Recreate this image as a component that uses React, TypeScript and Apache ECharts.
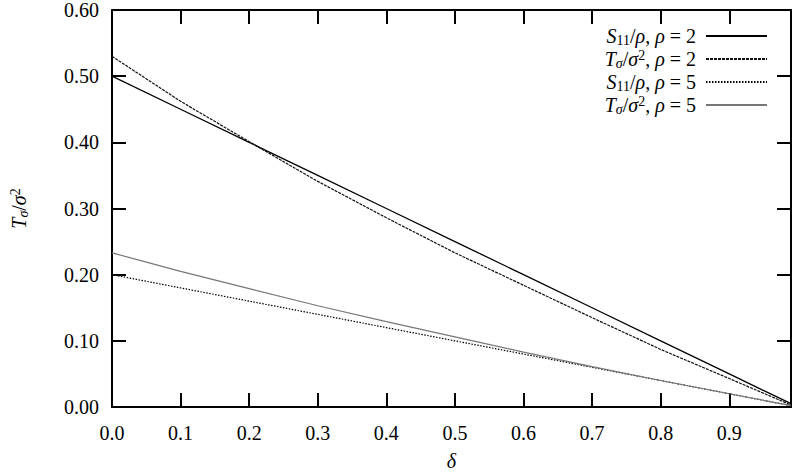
import React, { useEffect, useRef } from "react";
import * as echarts from "echarts";

const deltas = [0, 0.1, 0.2, 0.3, 0.4, 0.5, 0.6, 0.7, 0.8, 0.9, 0.99];
const s11Rho2 = [0.5, 0.45, 0.4, 0.35, 0.3, 0.25, 0.2, 0.15, 0.1, 0.05, 0.005];
const tSigmaRho2 = [0.53, 0.462, 0.401, 0.341, 0.286, 0.233, 0.184, 0.135, 0.087, 0.043, 0.003];
const s11Rho5 = [0.2, 0.18, 0.16, 0.14, 0.12, 0.1, 0.08, 0.06, 0.04, 0.02, 0.002];
const tSigmaRho5 = [0.233, 0.205, 0.179, 0.153, 0.129, 0.106, 0.083, 0.061, 0.04, 0.02, 0.002];
const seriesNames = ["S11/ρ, ρ = 2", "Tσ/σ2, ρ = 2", "S11/ρ, ρ = 5", "Tσ/σ2, ρ = 5"];
const legendRich = [
  "{i|S}{sub|11}{n|/}{i|ρ}{n|, }{i|ρ}{n| = 2}{g|}",
  "{i|T}{subi|σ}{n|/}{i|σ}{sup|2}{n|, }{i|ρ}{n| = 2}{g|}",
  "{i|S}{sub|11}{n|/}{i|ρ}{n|, }{i|ρ}{n| = 5}{g|}",
  "{i|T}{subi|σ}{n|/}{i|σ}{sup|2}{n|, }{i|ρ}{n| = 5}{g|}",
];

const FONT = "'Liberation Serif', 'DejaVu Serif', serif";

const rich = {
  i: { fontFamily: FONT, fontStyle: "italic", fontSize: 20, color: "#000" },
  n: { fontFamily: FONT, fontSize: 20, color: "#000" },
  g: { width: 5 },
  sub: { fontFamily: FONT, fontSize: 14, color: "#000", verticalAlign: "bottom", padding: [6, 0, 0, 0] },
  subi: { fontFamily: FONT, fontStyle: "italic", fontSize: 14, color: "#000", verticalAlign: "bottom", padding: [6, 0, 0, 0] },
  sup: { fontFamily: FONT, fontSize: 14, color: "#000", verticalAlign: "top", padding: [0, 0, 8, 0] },
};

export default function App() {
  const ref = useRef<HTMLDivElement>(null);
  useEffect(() => {
    if (!ref.current) return;
    const chart = echarts.init(ref.current, null, { renderer: "svg" });
    const pts = (ys: number[]) => deltas.map((d, i) => [d, ys[i]]);
    const axisCommon = {
      axisLine: { show: true, onZero: false, lineStyle: { color: "#000", width: 2 } },
      axisTick: { show: true, inside: true, length: 14, lineStyle: { color: "#000", width: 2 } },
      splitLine: { show: false },
    };
    chart.setOption({
      animation: false,
      backgroundColor: "#fff",
      grid: { left: 103, right: 2, top: 7, bottom: 65, containLabel: false },
      legend: {
        orient: "vertical",
        align: "right",
        right: 20,
        top: 20,
        itemWidth: 61,
        itemHeight: 12,
        itemGap: 1,
        itemStyle: { opacity: 0 },
        data: seriesNames,
        formatter: (name: string) => legendRich[seriesNames.indexOf(name)],
        textStyle: { fontFamily: FONT, fontSize: 20, lineHeight: 22, rich },
      },
      xAxis: [
        {
          type: "value", min: 0, max: 0.99, interval: 0.1, position: "bottom",
          ...axisCommon,
          axisLabel: {
            fontFamily: FONT, fontSize: 20, color: "#000", margin: 16,
            showMaxLabel: false,
            formatter: (v: number) => v.toFixed(1),
          },
          name: "δ", nameLocation: "middle", nameGap: 44,
          nameTextStyle: { fontFamily: FONT, fontStyle: "italic", fontSize: 20, color: "#000" },
        },
        {
          type: "value", min: 0, max: 0.99, interval: 0.1, position: "top",
          ...axisCommon, axisLabel: { show: false },
        },
      ],
      yAxis: [
        {
          type: "value", min: 0, max: 0.6, interval: 0.1, position: "left",
          ...axisCommon,
          axisLabel: {
            fontFamily: FONT, fontSize: 20, color: "#000", margin: 13,
            formatter: (v: number) => v.toFixed(2),
          },
          name: "{i|T}{subi|σ}{n|/}{i|σ}{sup|2}",
          nameLocation: "middle", nameGap: 82, nameRotate: 90,
          nameTextStyle: { fontFamily: FONT, fontSize: 20, color: "#000", rich },
        },
        {
          type: "value", min: 0, max: 0.6, interval: 0.1, position: "right",
          ...axisCommon, axisLabel: { show: false },
        },
      ],
      series: [
        {
          name: seriesNames[0], type: "line", data: pts(s11Rho2), showSymbol: false, symbol: "none",
          lineStyle: { color: "#000", width: 1.3, type: "solid" }, itemStyle: { color: "#000" },
        },
        {
          name: seriesNames[1], type: "line", data: pts(tSigmaRho2), showSymbol: false, symbol: "none",
          lineStyle: { color: "#111", width: 1.2, type: [3, 1] }, itemStyle: { color: "#111" },
        },
        {
          name: seriesNames[2], type: "line", data: pts(s11Rho5), showSymbol: false, symbol: "none",
          lineStyle: { color: "#000", width: 1.2, type: [1.5, 1.5] }, itemStyle: { color: "#000" },
        },
        {
          name: seriesNames[3], type: "line", data: pts(tSigmaRho5), showSymbol: false, symbol: "none",
          lineStyle: { color: "#777", width: 1.2, type: "solid" }, itemStyle: { color: "#777" },
        },
      ],
    });
    return () => chart.dispose();
  }, []);
  return (
    <div
      ref={ref}
      style={{ position: "absolute", left: 0, top: 0, width: 793, height: 476, background: "#fff" }}
    />
  );
}
